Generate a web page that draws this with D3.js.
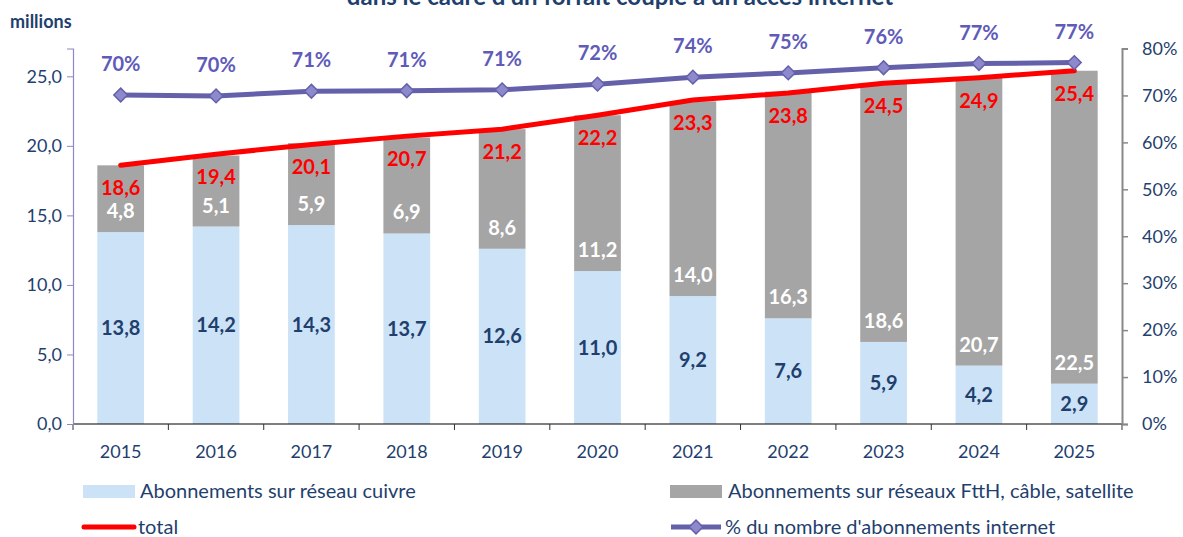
<!DOCTYPE html>
<html>
<head>
<meta charset="utf-8">
<script src="https://cdn.jsdelivr.net/npm/d3@7"></script>
<style>
 body { margin: 0; background: #fff; }
 svg text { font-family: Lato, "Open Sans", sans-serif; }
</style>
</head>
<body>
<div id="chart"></div>
<script>
const years = ["2015", "2016", "2017", "2018", "2019", "2020", "2021", "2022", "2023", "2024", "2025"];
const cuivre = [13.8, 14.2, 14.3, 13.7, 12.6, 11.0, 9.2, 7.6, 5.9, 4.2, 2.9];
const ftth = [4.8, 5.1, 5.9, 6.9, 8.6, 11.2, 14.0, 16.3, 18.6, 20.7, 22.5];
const total = [18.6, 19.4, 20.1, 20.7, 21.2, 22.2, 23.3, 23.8, 24.5, 24.9, 25.4];
const pctInternet = [0.701, 0.699, 0.709, 0.710, 0.712, 0.724, 0.739, 0.748, 0.759, 0.768, 0.770];
const leftTicks = [0, 5, 10, 15, 20, 25];
const rightTicks = [0, 0.1, 0.2, 0.3, 0.4, 0.5, 0.6, 0.7, 0.8];

const W = 1183, H = 537;
const plot = { left: 73, right: 1122, top: 48.5, bottom: 424 };
const navy = "#1F3F6E";
const purple = "#6461AA";
const fmt = (v) => v.toFixed(1).replace(".", ",");

const svg = d3.select("#chart").append("svg").attr("width", W).attr("height", H);

// title, cut by the top edge as in the source
svg.append("text")
 .attr("x", 620).attr("y", 5)
 .attr("text-anchor", "middle")
 .style("font-size", "24px").style("font-weight", "bold").style("fill", navy)
 .text("dans le cadre d'un forfait couplé à un accès internet");

svg.append("text")
 .attr("x", 10).attr("y", 28)
 .style("font-size", "18px").style("font-weight", "bold").style("fill", navy)
 .text("millions");

const x = d3.scaleBand().domain(years).range([plot.left, plot.right]);
const xBar = d3.scaleBand().domain(years).range([plot.left, plot.right]).paddingInner(0.51).paddingOuter(0.255);
const y = d3.scaleLinear().domain([0, 27]).range([plot.bottom, plot.top]);
const y2 = d3.scaleLinear().domain([0, 0.8]).range([plot.bottom, plot.top]);

// stacked bars
const rows = years.map((yr, i) => ({ year: yr, cuivre: cuivre[i], ftth: ftth[i] }));
const stack = d3.stack().keys(["cuivre", "ftth"])(rows);
const colors = { cuivre: "#CCE2F6", ftth: "#A5A5A5" };

svg.append("g").selectAll("g")
 .data(stack)
 .join("g")
 .attr("fill", (s) => colors[s.key])
 .selectAll("rect")
 .data((s) => s)
 .join("rect")
 .attr("x", (d) => xBar(d.data.year))
 .attr("width", xBar.bandwidth())
 .attr("y", (d) => y(d[1]))
 .attr("height", (d) => y(d[0]) - y(d[1]));

// copper labels, centred in segment
svg.append("g").selectAll("text")
 .data(rows)
 .join("text")
 .attr("x", (d) => x(d.year) + x.bandwidth() / 2)
 .attr("y", (d) => y(d.cuivre / 2))
 .attr("dy", "0.35em")
 .attr("text-anchor", "middle")
 .style("font-size", "20px").style("font-weight", "bold").style("fill", navy)
 .text((d) => fmt(d.cuivre));

// ftth labels, near the base of the grey segment
svg.append("g").selectAll("text")
 .data(rows)
 .join("text")
 .attr("x", (d) => x(d.year) + x.bandwidth() / 2)
 .attr("y", (d) => y(d.cuivre) - 21)
 .attr("dy", "0.35em")
 .attr("text-anchor", "middle")
 .style("font-size", "20px").style("font-weight", "bold").style("fill", "#fff")
 .text((d) => fmt(d.ftth));

// axes
const xAxis = svg.append("g")
 .attr("transform", `translate(0,${plot.bottom})`);
xAxis.append("line")
 .attr("x1", plot.left).attr("x2", plot.right)
 .attr("stroke", "#000").attr("stroke-width", 1.2);
xAxis.selectAll(".tk")
 .data(d3.range(years.length + 1))
 .join("line")
 .attr("x1", (i) => plot.left + i * x.step())
 .attr("x2", (i) => plot.left + i * x.step())
 .attr("y1", 0).attr("y2", 6)
 .attr("stroke", "#333");
xAxis.selectAll("text")
 .data(years)
 .join("text")
 .attr("x", (d) => x(d) + x.bandwidth() / 2)
 .attr("y", 28)
 .attr("dy", "0.35em")
 .attr("text-anchor", "middle")
 .style("font-size", "18px").style("fill", navy)
 .text((d) => d);

const yAxis = svg.append("g")
 .attr("transform", `translate(${plot.left},0)`)
 .call(d3.axisLeft(y).tickValues(leftTicks).tickFormat(fmt).tickSize(6).tickPadding(5));
yAxis.select(".domain").attr("stroke", "#8D87C6").attr("stroke-width", 1.2);
yAxis.selectAll(".tick line").attr("stroke", "#8D87C6");
yAxis.selectAll(".tick text").style("font-size", "18px").style("fill", navy);

const yAxis2 = svg.append("g")
 .attr("transform", `translate(${plot.right},0)`)
 .call(d3.axisRight(y2).tickValues(rightTicks).tickFormat(d3.format(".0%")).tickSize(6).tickPadding(14));
yAxis2.select(".domain").attr("stroke", "#888").attr("stroke-width", 2);
yAxis2.selectAll(".tick line").attr("stroke", "#888").attr("stroke-width", 1.5);
yAxis2.selectAll(".tick text").style("font-size", "18px").style("fill", navy);

// total line
const cx = (i) => x(years[i]) + x.bandwidth() / 2;
svg.append("path")
 .datum(total)
 .attr("fill", "none")
 .attr("stroke", "#FF0000")
 .attr("stroke-width", 5)
 .attr("stroke-linecap", "round")
 .attr("stroke-linejoin", "round")
 .attr("d", d3.line().x((d, i) => cx(i)).y((d) => y(d)));

svg.append("g").selectAll("text")
 .data(total)
 .join("text")
 .attr("x", (d, i) => cx(i))
 .attr("y", (d) => y(d) + 23)
 .attr("dy", "0.35em")
 .attr("text-anchor", "middle")
 .style("font-size", "20px").style("font-weight", "bold").style("fill", "#FF0000")
 .text((d) => fmt(d));

// share of internet subscriptions
svg.append("path")
 .datum(pctInternet)
 .attr("fill", "none")
 .attr("stroke", purple)
 .attr("stroke-width", 5)
 .attr("stroke-linejoin", "round")
 .attr("d", d3.line().x((d, i) => cx(i)).y((d) => y2(d)));

const diamond = d3.symbol().type(d3.symbolDiamond2).size(120);
svg.append("g").selectAll("path")
 .data(pctInternet)
 .join("path")
 .attr("transform", (d, i) => `translate(${cx(i)},${y2(d)})`)
 .attr("d", diamond)
 .attr("fill", "#8E89CC")
 .attr("stroke", purple)
 .attr("stroke-width", 1.5);

svg.append("g").selectAll("text")
 .data(pctInternet)
 .join("text")
 .attr("x", (d, i) => cx(i))
 .attr("y", (d) => y2(d) - 31)
 .attr("dy", "0.35em")
 .attr("text-anchor", "middle")
 .style("font-size", "20px").style("font-weight", "bold").style("fill", "#5F5BB8")
 .text((d) => d3.format(".0%")(d));

// legend
const legend = svg.append("g").style("font-size", "20px").style("fill", navy);
legend.append("rect").attr("x", 83).attr("y", 485).attr("width", 52).attr("height", 13).attr("fill", colors.cuivre);
legend.append("text").attr("x", 140).attr("y", 491).attr("dy", "0.35em").text("Abonnements sur réseau cuivre");
legend.append("rect").attr("x", 670).attr("y", 485).attr("width", 52).attr("height", 13).attr("fill", colors.ftth);
legend.append("text").attr("x", 728).attr("y", 491).attr("dy", "0.35em").text("Abonnements sur réseaux FttH, câble, satellite");
legend.append("line").attr("x1", 84).attr("x2", 134).attr("y1", 527).attr("y2", 527)
 .attr("stroke", "#FF0000").attr("stroke-width", 5).attr("stroke-linecap", "round");
legend.append("text").attr("x", 138).attr("y", 527).attr("dy", "0.35em").text("total");
legend.append("line").attr("x1", 671).attr("x2", 721).attr("y1", 527).attr("y2", 527)
 .attr("stroke", purple).attr("stroke-width", 5);
legend.append("path").attr("transform", "translate(696,527)").attr("d", diamond)
 .attr("fill", "#8E89CC").attr("stroke", purple).attr("stroke-width", 1.5);
legend.append("text").attr("x", 725).attr("y", 527).attr("dy", "0.35em").text("% du nombre d'abonnements internet");
</script>
</body>
</html>
